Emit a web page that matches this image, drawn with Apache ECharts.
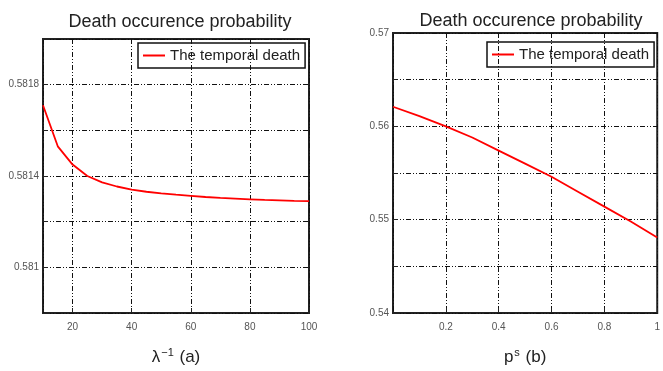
<!DOCTYPE html>
<html>
<head>
<meta charset="utf-8">
<script src="https://cdn.jsdelivr.net/npm/echarts@6/dist/echarts.min.js"></script>
<style>
  html, body { margin: 0; background: #fff; }
  #chart { width: 663px; height: 371px; }
</style>
</head>
<body>
<div id="chart"></div>
<script>
// (a) death occurence probability vs lambda^-1
const lambdaInv = [10, 15, 20, 25, 30, 35, 40, 45, 50, 55, 60, 65, 70, 75, 80, 85, 90, 95, 100];
const deathA = [0.58171, 0.58153, 0.58145, 0.58140, 0.581372, 0.581354, 0.58134, 0.581331, 0.581324,
  0.581318, 0.581313, 0.581308, 0.581304, 0.581301, 0.581298, 0.581295, 0.581293, 0.581291, 0.58129];

// (b) death occurence probability vs p^s
const pS = [0, 0.1, 0.2, 0.3, 0.4, 0.5, 0.6, 0.7, 0.8, 0.9, 1];
const deathB = [0.5621, 0.5611, 0.5600, 0.5588, 0.5574, 0.5560, 0.5546, 0.5530, 0.5514, 0.5498, 0.5481];

const seriesName = 'The temporal death';
const titleText = 'Death occurence probability';
const font = 'Liberation Sans, Arial, sans-serif';

const gridLine = { show: true, lineStyle: { color: '#111', width: 1, type: [5, 2, 1, 2, 1, 2] } };
const tickLabel = { color: '#555', fontSize: 10, fontFamily: font };
const nameRich = {
  b: { fontSize: 17, color: '#222', fontFamily: font },
  s: { fontSize: 11, color: '#222', fontFamily: font, verticalAlign: 'top', padding: [0, 1, 10, 1] }
};
const titleStyle = { fontSize: 18, fontWeight: 'normal', color: '#222', fontFamily: font };
const legendText = { fontSize: 15, color: '#222', fontFamily: font };
const tickIn = { show: true, inside: true, length: 5, lineStyle: { color: '#222' } };

var myChart = echarts.init(document.getElementById('chart'));
myChart.setOption({
  animation: false,
  title: [
    { text: titleText, left: 175, top: 8, textAlign: 'center', textStyle: titleStyle },
    { text: titleText, left: 526, top: 7, textAlign: 'center', textStyle: titleStyle }
  ],
  legend: [
    { left: 138, top: 43, padding: [5, 5, 5, 5], borderColor: '#111', borderWidth: 1.5,
      icon: 'rect', itemWidth: 22, itemHeight: 2, data: [seriesName], textStyle: legendText },
    { left: 487, top: 42, padding: [5, 5, 5, 5], borderColor: '#111', borderWidth: 1.5,
      icon: 'rect', itemWidth: 22, itemHeight: 2, data: [seriesName], textStyle: legendText }
  ],
  grid: [
    { left: 43, top: 39, width: 266, bottom: 49, show: true, borderColor: '#222', borderWidth: 2 },
    { left: 393, top: 33, right: 5, bottom: 50, show: true, borderColor: '#222', borderWidth: 2 }
  ],
  xAxis: [
    { gridIndex: 0, type: 'value', min: 10, max: 100, splitNumber: 5,
      axisLine: { show: false }, axisTick: tickIn,
      axisLabel: Object.assign({ showMinLabel: false, margin: 9 }, tickLabel),
      splitLine: gridLine,
      name: '{b|λ}{s|−1}{b| (a)}', nameLocation: 'middle', nameGap: 34,
      nameTextStyle: { rich: nameRich } },
    { gridIndex: 1, type: 'value', min: 0, max: 1, interval: 0.2,
      axisLine: { show: false }, axisTick: tickIn,
      axisLabel: Object.assign({ showMinLabel: false, margin: 9 }, tickLabel),
      splitLine: gridLine,
      name: '{b|p}{s|s}{b| (b)}', nameLocation: 'middle', nameGap: 34,
      nameTextStyle: { rich: nameRich } }
  ],
  yAxis: [
    { gridIndex: 0, type: 'value', min: 0.5808, max: 0.582, interval: 0.0002,
      axisLine: { show: false }, axisTick: tickIn,
      axisLabel: Object.assign({
        margin: 4,
        formatter: function (v) {
          const k = Math.round((v - 0.581) / 0.0002);
          return (k >= 0 && k % 2 === 0) ? String(+v.toFixed(4)) : '';
        }
      }, tickLabel),
      splitLine: gridLine },
    { gridIndex: 1, type: 'value', min: 0.54, max: 0.57, interval: 0.005,
      axisLine: { show: false }, axisTick: tickIn,
      axisLabel: Object.assign({
        margin: 4,
        formatter: function (v) {
          const k = Math.round((v - 0.54) / 0.005);
          return k % 2 === 0 ? v.toFixed(2) : '';
        }
      }, tickLabel),
      splitLine: gridLine }
  ],
  series: [
    { name: seriesName, type: 'line', xAxisIndex: 0, yAxisIndex: 0,
      showSymbol: false, color: '#ff0000', lineStyle: { width: 1.8 },
      data: lambdaInv.map((x, i) => [x, deathA[i]]) },
    { name: seriesName, type: 'line', xAxisIndex: 1, yAxisIndex: 1,
      showSymbol: false, color: '#ff0000', lineStyle: { width: 1.8 },
      data: pS.map((x, i) => [x, deathB[i]]) }
  ]
});
</script>
</body>
</html>
